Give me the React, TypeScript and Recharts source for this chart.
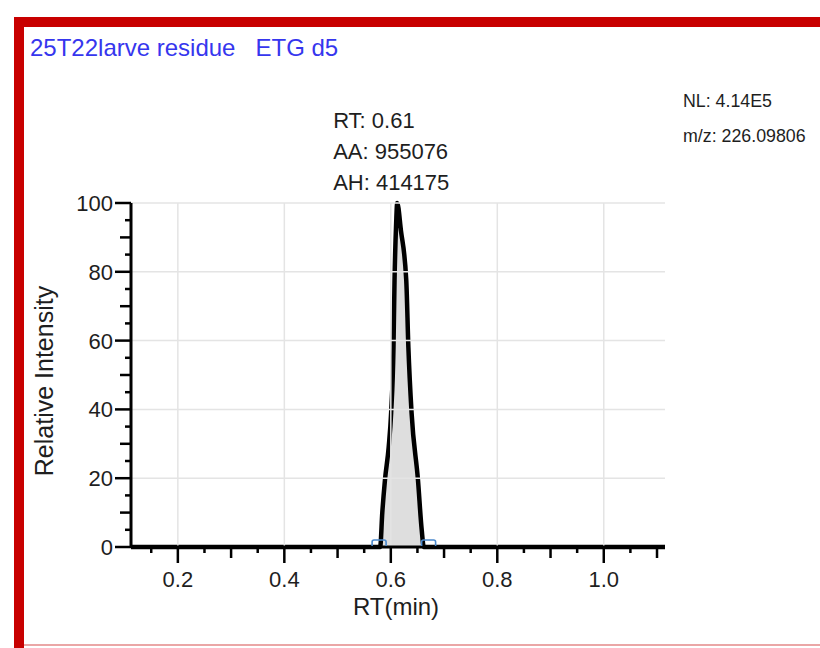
import { ComposedChart, Area, XAxis, YAxis, ReferenceLine, ReferenceDot } from "recharts";

// chromatogram trace (RT in min, relative intensity %)
const rtValues = [0.112, 0.5, 0.58, 0.584, 0.589, 0.596, 0.6006, 0.605, 0.607, 0.61, 0.612, 0.619, 0.629, 0.633, 0.639, 0.651, 0.658, 0.662, 0.7, 1.115];
const intensities = [0, 0, 0, 10, 19.5, 29, 39, 58, 77.6, 94, 100, 92, 77.6, 58, 39, 19.5, 5, 0, 0, 0];

const xTicks = [0.15, 0.2, 0.25, 0.3, 0.35, 0.4, 0.45, 0.5, 0.55, 0.6, 0.65, 0.7, 0.75, 0.8, 0.85, 0.9, 0.95, 1.0, 1.05, 1.1];
const yTicks = [0, 5, 10, 15, 20, 25, 30, 35, 40, 45, 50, 55, 60, 65, 70, 75, 80, 85, 90, 95, 100];
const xGrid = [0.2, 0.4, 0.6, 0.8, 1.0];
const yGrid = [20, 40, 60, 80, 100];

const peakMarkers = [0.578, 0.671];
const apexRt = 0.61;
const apexLabel = ["RT: 0.61", "AA: 955076", "AH: 414175"];

const title = "25T22larve residue   ETG d5";
const infoLines = ["NL: 4.14E5", "m/z: 226.09806"];

const data = rtValues.map((rt, i) => ({ rt, intensity: intensities[i] }));

const FONT = '"Liberation Sans", Arial, sans-serif';
const TXT = "#1e1e1e";

function YTick(props: any) {
  const { x, y, payload } = props;
  const v = payload.value;
  const len = v % 20 === 0 ? 16 : v % 10 === 0 ? 11 : 6;
  return (
    <g>
      <line x1={x - len} x2={x} y1={y} y2={y} stroke="#000" strokeWidth={2.5} />
      {v % 20 === 0 && (
        <text x={x - 18} y={y} dy="0.36em" textAnchor="end" fontSize={22} fontFamily={FONT} fill={TXT}>
          {v}
        </text>
      )}
    </g>
  );
}

function XTick(props: any) {
  const { x, y, payload } = props;
  const h = Math.round(payload.value * 100);
  const len = h % 20 === 0 ? 16 : h % 10 === 0 ? 11 : 6;
  return (
    <g>
      <line x1={x} x2={x} y1={y} y2={y + len} stroke="#000" strokeWidth={2.5} />
      {h % 20 === 0 && (
        <text x={x} y={y + 40} textAnchor="middle" fontSize={22} fontFamily={FONT} fill={TXT}>
          {payload.value.toFixed(1)}
        </text>
      )}
    </g>
  );
}

function Bracket(props: any) {
  const { cx, cy } = props;
  return (
    <path
      d={`M${cx - 7},${cy - 1} L${cx - 7},${cy - 5} Q${cx - 7},${cy - 7} ${cx - 5},${cy - 7} L${cx + 5},${cy - 7} Q${cx + 7},${cy - 7} ${cx + 7},${cy - 5} L${cx + 7},${cy - 1}`}
      fill="none"
      stroke="#4a88cc"
      strokeWidth={1.6}
    />
  );
}

function ApexLabel(props: any) {
  const { cx, cy } = props;
  return (
    <g>
      {apexLabel.map((s, i) => (
        <text key={s} x={cx - 63} y={cy - 75 + i * 31} fontSize={22} fontFamily={FONT} fill={TXT}>
          {s}
        </text>
      ))}
    </g>
  );
}

export default function App() {
  return (
    <div style={{ position: "absolute", left: 0, top: 0, width: 820, height: 648, background: "#fff", overflow: "hidden", fontFamily: FONT }}>
      <div style={{ position: "absolute", left: 0, top: 0 }}>
        <ComposedChart width={820} height={648} data={data} margin={{ top: 203, right: 155, bottom: 41, left: 71 }}>
          {xGrid.map((v) => (
            <ReferenceLine key={"x" + v} x={v} stroke="#e4e4e4" strokeWidth={1.5} />
          ))}
          {yGrid.map((v) => (
            <ReferenceLine key={"y" + v} y={v} stroke="#e4e4e4" strokeWidth={1.5} />
          ))}
          <XAxis
            dataKey="rt"
            type="number"
            domain={[0.112, 1.115]}
            allowDataOverflow
            ticks={xTicks}
            interval={0}
            tickSize={0}
            tickMargin={0}
            tickLine={false}
            height={60}
            axisLine={{ stroke: "#000", strokeWidth: 3 }}
            tick={<XTick />}
          />
          <YAxis
            type="number"
            domain={[0, 100]}
            ticks={yTicks}
            interval={0}
            tickSize={0}
            tickMargin={0}
            tickLine={false}
            width={60}
            axisLine={{ stroke: "#000", strokeWidth: 3 }}
            tick={<YTick />}
          />
          <Area
            type="monotone"
            dataKey="intensity"
            stroke="#000"
            strokeWidth={4.5}
            fill="#dedede"
            fillOpacity={1}
            dot={false}
            activeDot={false}
            isAnimationActive={false}
          />
          {peakMarkers.map((v) => (
            <ReferenceDot key={"m" + v} x={v} y={0} ifOverflow="visible" shape={<Bracket />} />
          ))}
          <ReferenceDot x={apexRt} y={100} ifOverflow="visible" shape={<ApexLabel />} />
        </ComposedChart>
      </div>
      <svg width={820} height={648} style={{ position: "absolute", left: 0, top: 0, pointerEvents: "none" }}>
        <text x={30} y={56} fontSize={24} fontFamily={FONT} fill="#3636ee" style={{ whiteSpace: "pre" }}>
          {title}
        </text>
        <text x={683} y={107} fontSize={17.8} fontFamily={FONT} fill={TXT}>{infoLines[0]}</text>
        <text x={683} y={142} fontSize={17.8} fontFamily={FONT} fill={TXT}>{infoLines[1]}</text>
        <text x={396} y={615} textAnchor="middle" fontSize={24} fontFamily={FONT} fill={TXT}>RT(min)</text>
        <text x={53} y={381} textAnchor="middle" fontSize={25} fontFamily={FONT} fill={TXT} transform="rotate(-90 53 381)">
          Relative Intensity
        </text>
      </svg>
      <div style={{ position: "absolute", left: 14, top: 17, width: 806, height: 10, background: "#c80000" }} />
      <div style={{ position: "absolute", left: 14, top: 17, width: 10, height: 631, background: "#c80000" }} />
      <div style={{ position: "absolute", left: 24, top: 644, width: 796, height: 2, background: "#eaa6a6" }} />
    </div>
  );
}
